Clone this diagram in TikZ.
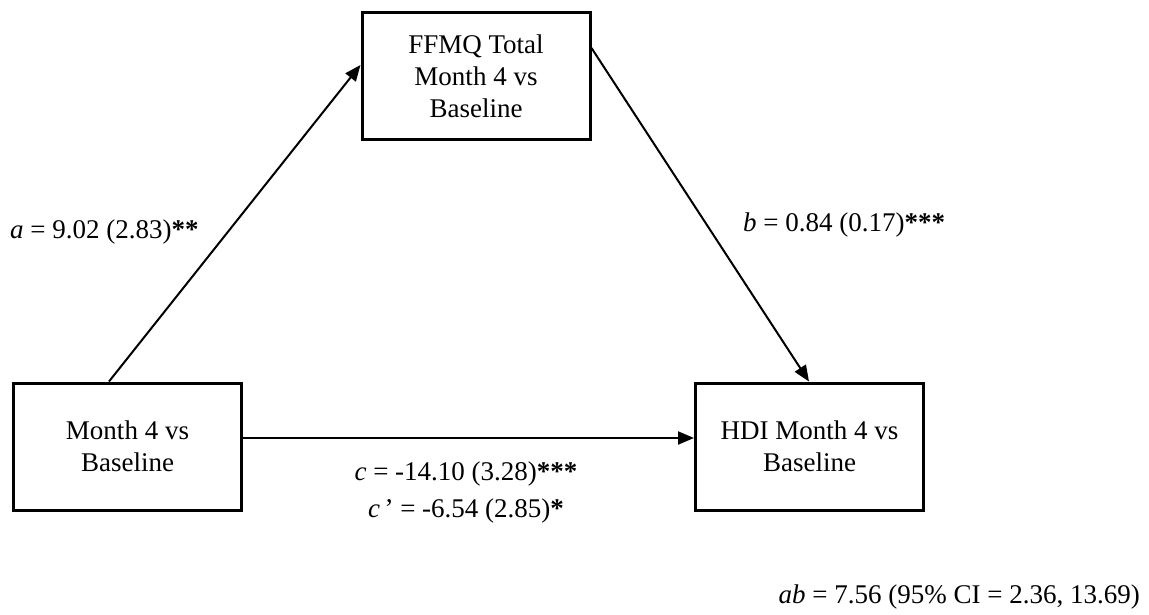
\documentclass[tikz,border=0pt]{standalone}
\usepackage{fontspec}
\setmainfont{Liberation Serif}
\usetikzlibrary{arrows.meta}
\begin{document}
\begin{tikzpicture}[x=1pt,y=-1pt,
  box/.style={draw,line width=3pt,minimum width=228pt,minimum height=127pt,align=center,inner sep=0pt,font=\fontsize{27}{32}\selectfont},
  lab/.style={inner sep=0pt,align=center,font=\fontsize{27}{37}\selectfont},
  arr/.style={line width=2pt,-{Triangle[length=16pt,width=13pt]}}]
\useasboundingbox (0,0) rectangle (1149,615);
\node[box] (top) at (476,76.5) {FFMQ Total\\Month 4 vs\\Baseline};
\node[box] (left) at (127.5,446.5) {Month 4 vs\\Baseline};
\node[box] (right) at (809.5,446.5) {HDI Month 4 vs\\Baseline};
\draw[arr] ([xshift=-18.5pt]left.north) -- ([yshift=11.5pt]top.west);
\draw[arr] ([yshift=28.5pt]top.east) -- ([xshift=-0.5pt]right.north);
\draw[arr] ([yshift=8.5pt]left.east) -- ([yshift=8.5pt]right.west);
\node[lab,anchor=west] (la) at (10,232) {\textit{a} = 9.02 (2.83)\textbf{**}};
\node[lab,anchor=west] (lb) at (743,225) {\textit{b} = 0.84 (0.17)\textbf{***}};
\node[lab] (lc) at (466,493) {\textit{c} = -14.10 (3.28)\textbf{***}\\\textit{c}\,’ = -6.54 (2.85)\textbf{*}};
\node[lab,anchor=east] (lab) at (1140,597) {\textit{ab} = 7.56 (95\% CI = 2.36, 13.69)};
\end{tikzpicture}
\end{document}
